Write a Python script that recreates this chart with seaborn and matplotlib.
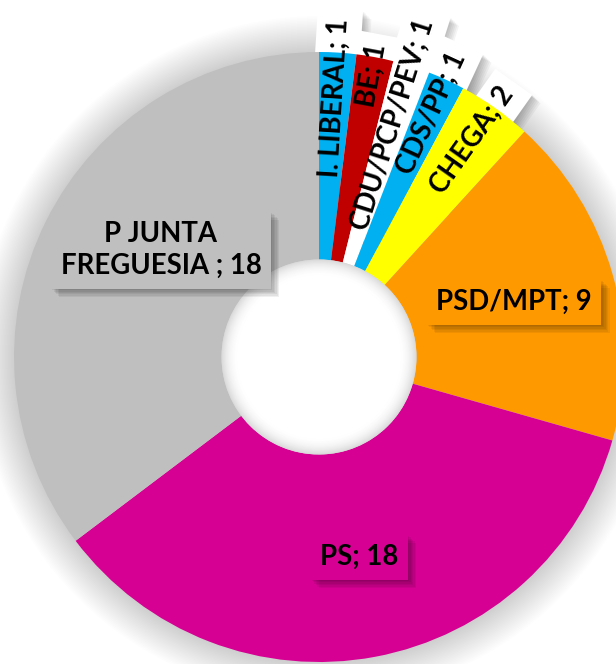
import numpy as np
import matplotlib
matplotlib.use("Agg")
import matplotlib.pyplot as plt
import matplotlib.patheffects as pe
from matplotlib.patches import Circle
import seaborn as sns

# ---- data ----
parties = ["I. LIBERAL", "BE", "CDU/PCP/PEV", "CDS/PP", "CHEGA",
           "PSD/MPT", "PS", "P JUNTA\nFREGUESIA "]
seats = [1, 1, 1, 1, 2, 9, 18, 18]
colors = ["#00B0F0", "#C00000", "#FFFFFF", "#00B0F0", "#FFFF00",
          "#FF9900", "#D60093", "#BFBFBF"]

# ---- layout / style ----
small_label_frac = [0.85, 0.94, 0.80, 0.88, 0.87]
big_label_offsets = {5: (195, 55), 6: (40, -200), 7: (-158, 107)}

sns.set_theme(style="white")
plt.rcParams['font.family'] = ['Lato', 'DejaVu Sans']

W, H = 616, 664
fig = plt.figure(figsize=(W / 100, H / 100), dpi=100)
ax = fig.add_axes([0, 0, 1, 1])
cx, cy = 319, H - 357
R, r_hole = 305, 97.5
fs = 19.8

# soft outer shadow
for k in range(24):
    ax.add_patch(Circle((cx, cy), R + 1.5 * (k + 1), facecolor='black',
                        alpha=0.006, edgecolor='none', zorder=0.1))

wedges, _ = ax.pie(seats, colors=colors, startangle=90, counterclock=False,
                   center=(cx, cy), radius=R,
                   wedgeprops=dict(width=R - r_hole, edgecolor='none', zorder=1))

# hole with inner shading
n = 16
for k in range(n):
    t = k / (n - 1)
    shade = 0.86 + 0.14 * (1 - (1 - t) ** 2)
    ax.add_patch(Circle((cx, cy), r_hole - k * 1.1, facecolor=(shade,) * 3,
                        edgecolor='none', zorder=2))

total = sum(seats)
cum = np.cumsum([0] + seats)
mid = (cum[:-1] + cum[1:]) / 2 / total * 360
polar = 90 - mid

labels = [f"{p}; {s}" for p, s in zip(parties, seats)]


def soft_shadow(a):
    return [pe.SimplePatchShadow(offset=(o, -o), shadow_rgbFace='black', alpha=a)
            for o in (1, 2, 3, 4, 5, 6)] + [pe.Normal()]


for i in range(5):
    th = np.deg2rad(polar[i])
    rad = R * small_label_frac[i]
    x = cx + rad * np.cos(th)
    y = cy + rad * np.sin(th)
    tb = ax.text(x, y, labels[i], rotation=polar[i], rotation_mode='anchor',
                 ha='center', va='center', fontsize=fs, fontweight='bold',
                 color=(0, 0, 0, 0), zorder=0.5,
                 bbox=dict(boxstyle='square,pad=0.35', fc='white', ec='none'))
    tb.get_bbox_patch().set_path_effects(soft_shadow(0.045))
    ax.text(x, y, labels[i], rotation=polar[i], rotation_mode='anchor',
            ha='center', va='center', fontsize=fs, fontweight='bold',
            color='black', zorder=6)

for i, (dx, dy) in big_label_offsets.items():
    t = ax.text(cx + dx, cy + dy, labels[i], ha='center', va='center',
                multialignment='center', fontsize=fs, fontweight='bold',
                color='black', zorder=6, linespacing=1.3,
                bbox=dict(boxstyle='square,pad=0.35', fc=colors[i], ec='none'))
    t.get_bbox_patch().set_path_effects(soft_shadow(0.06))

ax.set_xlim(0, W)
ax.set_ylim(0, H)
ax.set_aspect('auto')
ax.axis('off')
fig.savefig('out.png', dpi=100)
